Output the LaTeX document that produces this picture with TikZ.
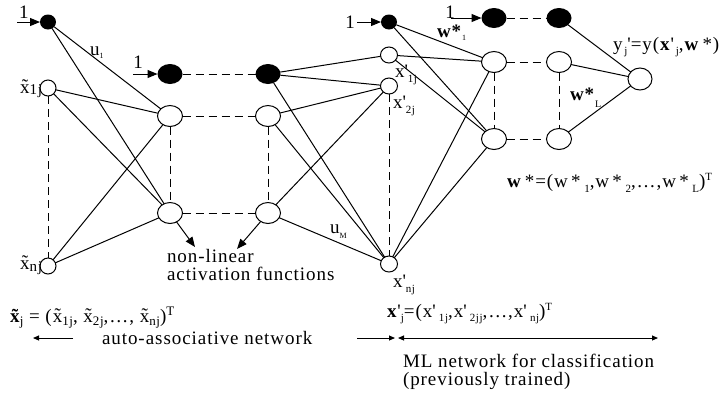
\documentclass[tikz,border=0pt]{standalone}
\usepackage{fontspec}
\setmainfont{Liberation Serif}
\newfontfamily\spaced[LetterSpace=5]{Liberation Serif}
\usetikzlibrary{arrows.meta,shapes.geometric}

% tilde x, plain and bold (combining tilde)
\newcommand{\tx}{x\char"0303}
\newcommand{\btx}{\textbf{x\char"0303}\kern-7pt}
% lowered / raised index: shift, size, text
\newcommand{\idxdn}[3]{\raisebox{-#1pt}{\fontsize{#2}{#2}\selectfont #3}}
\newcommand{\idxup}[3]{\raisebox{#1pt}{\fontsize{#2}{#2}\selectfont #3}}
\newcommand{\prm}{\textquotesingle}

\begin{document}
\begin{tikzpicture}[x=1pt,y=-1pt,
  every node/.style={inner sep=0pt,outer sep=0pt},
  link/.style={line width=1pt},
  dlink/.style={line width=1pt,dash pattern=on 8pt off 5pt},
  feed/.style={line width=1pt,-{Triangle[length=10pt,width=8pt]}},
  span/.style={line width=1pt},
  tip/.style={-{Triangle[length=6pt,width=5pt]}},
  unit/.style={draw,ellipse,line width=1pt,fill=white},
  inunit/.style={unit,minimum width=16pt,minimum height=16pt},
  hidunit/.style={unit,minimum width=25pt,minimum height=21pt},
  prunit/.style={unit,minimum width=17pt,minimum height=16pt},
  outunit/.style={unit,minimum width=24pt,minimum height=22pt},
  smallbias/.style={ellipse,fill=black,minimum width=16pt,minimum height=15pt},
  bigbias/.style={ellipse,fill=black,minimum width=25pt,minimum height=20pt},
  lbl/.style={font=\spaced\fontsize{19}{19}\selectfont},
]
\useasboundingbox (0,0) rectangle (723,392);

% ---------- auto-associative network ----------
\node[smallbias] (b1) at (48,22) {};
\node[inunit] (i1) at (48,88) {};
\node[inunit] (in) at (48,266) {};

\node[bigbias] (b2) at (170,74) {};
\node[hidunit] (h1) at (170,116) {};
\node[hidunit] (h2) at (170,213) {};

\node[bigbias] (b3) at (268,74) {};
\node[hidunit] (g1) at (268,116) {};
\node[hidunit] (g2) at (268,213) {};

% ---------- ML network ----------
\node[smallbias] (b4) at (389,22) {};
\node[prunit] (p1) at (389,55) {};
\node[prunit] (p2) at (389,86) {};
\node[prunit] (pn) at (389,264) {};

\node[bigbias] (b5) at (494,18) {};
\node[hidunit] (e1) at (494,62) {};
\node[hidunit] (e2) at (494,139) {};

\node[bigbias] (b6) at (559,18) {};
\node[hidunit] (f1) at (559,62) {};
\node[hidunit] (f2) at (559,139) {};

\node[outunit] (o) at (640,79) {};

% weights
\foreach \s/\t in {b1/h1,b1/h2,i1/h1,i1/h2,in/h1,in/h2,
                   b3/p1,b3/p2,b3/pn,g1/p2,g1/pn,g2/p2,g2/pn,
                   b4/e1,b4/e2,p1/e1,p1/e2,pn/e1,pn/e2,
                   b6/o,f1/o,f2/o}
  \draw[link] (\s) -- (\t);

% elided units
\foreach \s/\t in {i1/in,h1/h2,g1/g2,p2/pn,e1/e2,f1/f2,
                   b2/b3,h1/g1,h2/g2,b5/b6,e1/f1,e2/f2}
  \draw[dlink] (\s) -- (\t);

% bias inputs
\coordinate (a1) at (17,22);
\coordinate (a2) at (133,74);
\coordinate (a4) at (357,22);
\coordinate (a5) at (451,18);
\draw[feed] (a1) -- (b1);
\draw[feed] (a2) -- (b2);
\draw[feed] (a4) -- (b4);
\draw[feed] (a5) -- (b5);
\node[lbl,anchor=base] (one1) at (24,18) {1};
\node[lbl,anchor=base] (one2) at (138,68) {1};
\node[lbl,anchor=base] (one4) at (350,28) {1};
\node[lbl,anchor=base] (one5) at (450,18) {1};

% activation pointers
\coordinate (act1) at (195,247);
\coordinate (act2) at (237,249);
\draw[feed] (h2) -- (act1);
\draw[feed] (g2) -- (act2);
\node[lbl,anchor=base west] (nl1) at (167,262) {non-linear};
\node[lbl,anchor=base west] (nl2) at (167,280) {activation functions};

% unit labels
\node[lbl,anchor=base east] (lx1) at (42,93) {\tx\idxdn{1.5}{15}{1j}};
\node[lbl,anchor=base east] (lxn) at (42,269) {\tx\idxdn{2}{15}{nj}};
\node[lbl,anchor=base west] (lu1) at (90,55) {u\idxdn{3}{8}{1}};
\node[lbl,anchor=base west] (luM) at (330,233) {u\idxdn{5}{8}{M}};
\node[lbl,anchor=base west] (lp1) at (395,77) {x\prm\idxdn{5}{11}{1j}};
\node[lbl,anchor=base west] (lp2) at (393,108) {x\prm\idxdn{5}{11}{2j}};
\node[lbl,anchor=base west] (lpn) at (393,287) {x\prm\idxdn{5}{11}{nj}};
\node[lbl,anchor=base west] (lw1) at (437,37) {\textbf{w*}\idxdn{3}{8}{1}};
\node[lbl,anchor=base west] (lwL) at (570,100) {\textbf{w*}\idxdn{7}{10}{L}};

% output and weight vector
\node[lbl,anchor=base west] (ly) at (613,50)
  {y\idxdn{4}{11}{\,j}\prm=y(\textbf{x}\prm\idxdn{4}{11}{\,j},\textbf{w}\,*)};
\node[lbl,anchor=base west] (lw) at (507,187)
  {\textbf{w}\,*=(w\,*\idxdn{5}{11}{\,\,1},w\,*\idxdn{5}{11}{\,\,2},\dots,w\,*\idxdn{5}{11}{\,\,L})\idxup{7}{11}{T}};

% input vectors
\node[lbl,anchor=base west] (vx) at (10,322)
  {\btx\idxdn{3}{13}{j} = (\tx\idxdn{3}{13}{1j}, \tx\idxdn{3}{13}{2j},\dots, \tx\idxdn{3}{13}{nj})\idxup{7}{13}{T}};
\node[lbl,anchor=base west] (vp) at (387,317)
  {\textbf{x}\prm\idxdn{4}{11}{j}=(x\prm\,\idxdn{4}{11}{1j},x\prm\,\idxdn{4}{11}{2jj},\dots,x\prm\,\idxdn{4}{11}{nj})\idxup{7}{11}{T}};

% extents of the two networks
\coordinate (la0) at (73,338);
\coordinate (la1) at (33,338);
\coordinate (ra0) at (357,338);
\coordinate (ra1) at (395,338);
\coordinate (mb0) at (398,338);
\coordinate (mb1) at (658,338);
\draw[span,tip] (la0) -- (la1);
\draw[span,tip] (ra0) -- (ra1);
\draw[span,{Triangle[length=6pt,width=5pt]}-{Triangle[length=6pt,width=5pt]}] (mb0) -- (mb1);
\node[lbl,anchor=base west] (aa) at (102,344) {auto-associative network};
\node[lbl,anchor=base west] (ml1) at (403,367) {ML network for classification};
\node[lbl,anchor=base west] (ml2) at (403,385) {(previously trained)};
\end{tikzpicture}
\end{document}
